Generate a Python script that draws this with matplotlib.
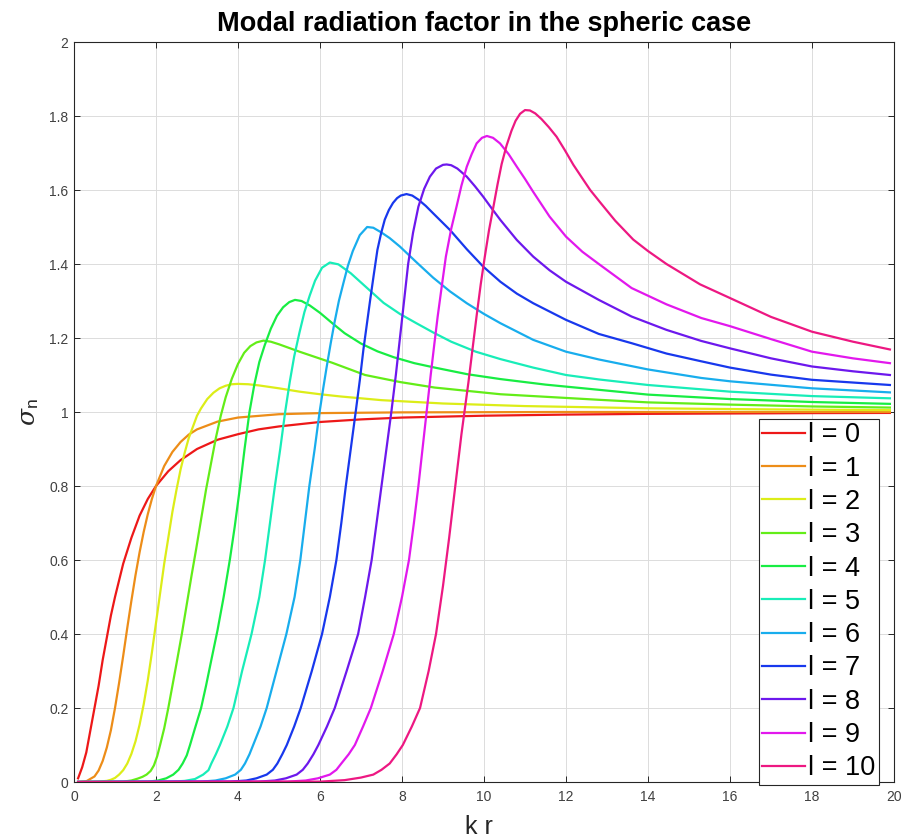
import matplotlib
matplotlib.use("Agg")
import matplotlib.pyplot as plt
from matplotlib.ticker import FuncFormatter

plt.rcParams['font.family'] = ['Liberation Sans', 'DejaVu Sans']
plt.rcParams['mathtext.fontset'] = 'custom'
plt.rcParams['mathtext.rm'] = 'Liberation Sans'
plt.rcParams['mathtext.it'] = 'DejaVu Serif:italic'

# values (kr, sigma_n) for each mode l
kr_l0 = [0.1, 0.2, 0.3, 0.4, 0.5, 0.6, 0.7, 0.8, 0.9, 1.0, 1.2, 1.4, 1.6, 1.8, 2.0, 2.3, 2.6, 3.0, 3.5, 4.0, 4.5, 5.0, 6.0, 7.0, 8.0, 10.0, 12.0, 14.0, 16.0, 18.0, 19.9]
sig_l0 = [0.01, 0.04, 0.08, 0.14, 0.2, 0.26, 0.33, 0.39, 0.45, 0.5, 0.59, 0.66, 0.72, 0.765, 0.8, 0.84, 0.87, 0.9, 0.925, 0.94, 0.953, 0.961, 0.973, 0.98, 0.985, 0.99, 0.993, 0.995, 0.996, 0.997, 0.9975]

kr_l1 = [0.1, 0.3, 0.5, 0.6, 0.7, 0.8, 0.9, 1.0, 1.1, 1.2, 1.3, 1.4, 1.5, 1.6, 1.7, 1.8, 1.9, 2.0, 2.2, 2.4, 2.6, 2.8, 3.0, 3.5, 4.0, 5.0, 6.0, 8.0, 12.0, 19.9]
sig_l1 = [0.0, 0.002, 0.015, 0.031, 0.057, 0.093, 0.14, 0.2, 0.268, 0.341, 0.417, 0.49, 0.559, 0.621, 0.676, 0.724, 0.765, 0.80, 0.854, 0.892, 0.919, 0.939, 0.953, 0.974, 0.985, 0.994, 0.997, 0.999, 1.0, 1.0]

kr_l2 = [0.1, 0.6, 0.8, 0.9, 1.0, 1.1, 1.2, 1.3, 1.4, 1.5, 1.6, 1.7, 1.8, 1.9, 2.0, 2.1, 2.2, 2.3, 2.4, 2.5, 2.6, 2.7, 2.8, 2.9, 3.0, 3.1, 3.25, 3.4, 3.55, 3.7, 3.85, 4.0, 4.25, 4.5, 5.0, 5.5, 6.0, 6.5, 7.5, 9.0, 11.0, 14.0, 17.0, 19.9]
sig_l2 = [0.0, 0.001, 0.003, 0.006, 0.011, 0.02, 0.032, 0.05, 0.076, 0.11, 0.155, 0.21, 0.275, 0.35, 0.43, 0.51, 0.59, 0.66, 0.73, 0.79, 0.845, 0.89, 0.93, 0.96, 0.99, 1.01, 1.035, 1.052, 1.064, 1.071, 1.075, 1.076, 1.075, 1.072, 1.064, 1.055, 1.048, 1.042, 1.032, 1.023, 1.016, 1.010, 1.007, 1.005]

kr_l3 = [0.1, 1.2, 1.4, 1.55, 1.67, 1.77, 1.87, 1.95, 2.03, 2.1, 2.2, 2.3, 2.4, 2.5, 2.63, 2.75, 2.87, 2.98, 3.1, 3.22, 3.34, 3.46, 3.58, 3.7, 3.85, 4.0, 4.15, 4.3, 4.45, 4.62, 4.8, 5.0, 5.5, 6.3, 7.1, 7.95, 8.8, 10.4, 12.8, 14.0, 16.0, 18.0, 19.9]
sig_l3 = [0.0, 0.001, 0.004, 0.009, 0.014, 0.02, 0.03, 0.045, 0.07, 0.1, 0.145, 0.2, 0.26, 0.32, 0.4, 0.48, 0.56, 0.63, 0.71, 0.79, 0.86, 0.93, 0.99, 1.04, 1.09, 1.13, 1.16, 1.178, 1.188, 1.193, 1.19, 1.183, 1.163, 1.133, 1.10, 1.081, 1.066, 1.048, 1.033, 1.026, 1.02, 1.015, 1.012]

kr_l4 = [0.1, 1.8, 2.05, 2.25, 2.42, 2.55, 2.65, 2.75, 2.83, 2.95, 3.1, 3.22, 3.35, 3.5, 3.65, 3.8, 3.92, 4.04, 4.16, 4.28, 4.4, 4.52, 4.65, 4.8, 4.95, 5.1, 5.25, 5.39, 5.55, 5.75, 6.0, 6.3, 6.6, 7.0, 7.4, 7.8, 8.3, 8.8, 9.6, 10.4, 11.5, 12.8, 14.0, 16.0, 18.0, 19.9]
sig_l4 = [0.0, 0.001, 0.004, 0.01, 0.02, 0.033, 0.05, 0.072, 0.1, 0.145, 0.2, 0.26, 0.33, 0.41, 0.5, 0.6, 0.69, 0.79, 0.9, 1.0, 1.075, 1.135, 1.18, 1.225, 1.26, 1.283, 1.297, 1.303, 1.3, 1.288, 1.268, 1.24, 1.213, 1.185, 1.164, 1.148, 1.132, 1.12, 1.102, 1.089, 1.074, 1.06, 1.047, 1.035, 1.027, 1.022]

kr_l5 = [0.1, 2.4, 2.7, 2.95, 3.15, 3.28, 3.35, 3.46, 3.56, 3.74, 3.89, 4.1, 4.33, 4.52, 4.66, 4.78, 4.9, 5.03, 5.15, 5.26, 5.37, 5.5, 5.62, 5.75, 5.88, 6.05, 6.24, 6.45, 6.75, 7.15, 7.55, 7.95, 8.35, 8.76, 9.2, 9.8, 10.4, 11.2, 12.0, 12.8, 14.0, 16.0, 18.0, 19.9]
sig_l5 = [0.0, 0.001, 0.003, 0.008, 0.02, 0.032, 0.05, 0.075, 0.1, 0.15, 0.2, 0.3, 0.4, 0.5, 0.6, 0.7, 0.8, 0.9, 1.0, 1.08, 1.15, 1.215, 1.27, 1.315, 1.355, 1.39, 1.404, 1.399, 1.375, 1.335, 1.295, 1.265, 1.24, 1.215, 1.19, 1.163, 1.143, 1.12, 1.10, 1.088, 1.073, 1.055, 1.043, 1.037]

kr_l6 = [0.1, 3.1, 3.45, 3.7, 3.93, 4.07, 4.17, 4.28, 4.37, 4.55, 4.7, 4.94, 5.18, 5.38, 5.52, 5.63, 5.74, 5.87, 5.99, 6.08, 6.16, 6.26, 6.35, 6.46, 6.57, 6.68, 6.8, 6.97, 7.15, 7.3, 7.5, 7.7, 7.95, 8.35, 8.76, 9.17, 9.58, 10.0, 10.4, 11.2, 12.0, 12.8, 14.0, 15.3, 16.0, 18.0, 19.9]
sig_l6 = [0.0, 0.001, 0.004, 0.01, 0.02, 0.033, 0.05, 0.075, 0.1, 0.15, 0.2, 0.3, 0.4, 0.5, 0.6, 0.7, 0.8, 0.9, 1.0, 1.065, 1.12, 1.185, 1.24, 1.3, 1.348, 1.395, 1.435, 1.478, 1.50, 1.498, 1.485, 1.47, 1.447, 1.405, 1.363, 1.326, 1.294, 1.265, 1.24, 1.195, 1.163, 1.142, 1.115, 1.092, 1.083, 1.064, 1.053]

kr_l7 = [0.1, 3.8, 4.2, 4.45, 4.7, 4.85, 4.96, 5.08, 5.19, 5.37, 5.53, 5.8, 6.05, 6.24, 6.4, 6.52, 6.63, 6.75, 6.87, 6.97, 7.06, 7.14, 7.22, 7.31, 7.4, 7.49, 7.58, 7.68, 7.78, 7.88, 7.97, 8.11, 8.25, 8.4, 8.58, 8.76, 9.17, 9.58, 9.98, 10.4, 10.8, 11.2, 12.0, 12.8, 13.6, 14.45, 15.3, 16.0, 17.0, 18.0, 19.9]
sig_l7 = [0.0, 0.001, 0.004, 0.01, 0.02, 0.033, 0.05, 0.075, 0.1, 0.15, 0.2, 0.3, 0.4, 0.5, 0.6, 0.7, 0.8, 0.9, 1.0, 1.085, 1.17, 1.235, 1.3, 1.37, 1.438, 1.483, 1.52, 1.546, 1.565, 1.578, 1.585, 1.589, 1.585, 1.574, 1.557, 1.537, 1.492, 1.44, 1.393, 1.352, 1.32, 1.294, 1.249, 1.211, 1.186, 1.158, 1.137, 1.12, 1.101, 1.087, 1.073]

kr_l8 = [0.1, 4.5, 4.9, 5.17, 5.43, 5.58, 5.7, 5.84, 5.96, 6.17, 6.36, 6.65, 6.93, 7.1, 7.26, 7.38, 7.5, 7.62, 7.74, 7.85, 7.95, 8.05, 8.15, 8.27, 8.4, 8.54, 8.68, 8.83, 9.0, 9.09, 9.2, 9.35, 9.58, 9.78, 9.98, 10.19, 10.4, 10.8, 11.2, 11.6, 12.0, 12.8, 13.6, 14.45, 15.3, 16.0, 17.0, 18.0, 19.0, 19.9]
sig_l8 = [0.0, 0.001, 0.004, 0.01, 0.02, 0.033, 0.05, 0.075, 0.1, 0.15, 0.2, 0.3, 0.4, 0.5, 0.6, 0.7, 0.8, 0.9, 1.0, 1.1, 1.2, 1.3, 1.40, 1.485, 1.555, 1.603, 1.636, 1.658, 1.668, 1.669, 1.667, 1.658, 1.636, 1.61, 1.582, 1.55, 1.519, 1.465, 1.42, 1.383, 1.352, 1.303, 1.258, 1.222, 1.192, 1.172, 1.145, 1.123, 1.11, 1.10]

kr_l9 = [0.1, 5.2, 5.65, 5.95, 6.24, 6.4, 6.52, 6.7, 6.85, 7.05, 7.24, 7.53, 7.8, 8.0, 8.17, 8.29, 8.4, 8.5, 8.6, 8.7, 8.79, 8.87, 8.97, 9.07, 9.2, 9.33, 9.45, 9.58, 9.7, 9.82, 9.95, 10.07, 10.22, 10.39, 10.6, 10.8, 11.0, 11.2, 11.6, 12.0, 12.4, 12.8, 13.6, 14.45, 15.3, 16.0, 17.0, 18.0, 19.0, 19.9]
sig_l9 = [0.0, 0.001, 0.004, 0.01, 0.02, 0.033, 0.05, 0.075, 0.1, 0.15, 0.2, 0.3, 0.4, 0.5, 0.6, 0.7, 0.8, 0.9, 1.0, 1.1, 1.185, 1.258, 1.34, 1.42, 1.495, 1.555, 1.612, 1.663, 1.697, 1.726, 1.741, 1.746, 1.741, 1.726, 1.697, 1.663, 1.63, 1.595, 1.528, 1.474, 1.433, 1.40, 1.335, 1.291, 1.254, 1.232, 1.197, 1.163, 1.145, 1.132]

kr_l10 = [0.1, 6.0, 6.6, 7.0, 7.3, 7.5, 7.7, 7.87, 8.02, 8.24, 8.44, 8.65, 8.83, 9.0, 9.15, 9.3, 9.45, 9.62, 9.72, 9.82, 9.92, 10.02, 10.12, 10.23, 10.33, 10.43, 10.55, 10.67, 10.77, 10.88, 11.0, 11.12, 11.25, 11.4, 11.58, 11.77, 11.97, 12.18, 12.39, 12.59, 12.83, 13.2, 13.64, 14.0, 14.45, 15.27, 16.0, 17.0, 18.0, 19.0, 19.9]
sig_l10 = [0.0, 0.001, 0.005, 0.012, 0.02, 0.033, 0.05, 0.075, 0.1, 0.15, 0.2, 0.3, 0.4, 0.53, 0.66, 0.8, 0.94, 1.08, 1.17, 1.26, 1.345, 1.42, 1.49, 1.555, 1.615, 1.67, 1.72, 1.76, 1.787, 1.806, 1.816, 1.815, 1.807, 1.792, 1.77, 1.744, 1.708, 1.668, 1.633, 1.60, 1.567, 1.517, 1.466, 1.435, 1.40, 1.345, 1.308, 1.257, 1.217, 1.19, 1.169]

labels = ["l = %d" % l for l in range(11)]
colors = ["#ed1818", "#ed8d18", "#dced18", "#63ed18", "#18ed43", "#18edb8",
          "#18aded", "#1838ed", "#6d18ed", "#e218ed", "#ed1882"]

series = [(kr_l0, sig_l0), (kr_l1, sig_l1), (kr_l2, sig_l2), (kr_l3, sig_l3),
          (kr_l4, sig_l4), (kr_l5, sig_l5), (kr_l6, sig_l6), (kr_l7, sig_l7),
          (kr_l8, sig_l8), (kr_l9, sig_l9), (kr_l10, sig_l10)]

fig = plt.figure(figsize=(9.01, 8.38), dpi=100)
ax = fig.add_axes([74 / 901, 1 - 782 / 838, 820 / 901, 740 / 838])

for (x, y), lab, c in zip(series, labels, colors):
    ax.plot(x, y, color=c, lw=1.6, label=lab, solid_joinstyle='round')

ax.set_xlim(0, 20)
ax.set_ylim(0, 2)
ax.set_xticks(range(0, 21, 2))
ax.set_yticks([i * 0.2 for i in range(11)])
ax.yaxis.set_major_formatter(FuncFormatter(lambda v, p: "%g" % round(v, 1)))

ax.grid(True, color="#dcdcdc", lw=0.7)
ax.set_axisbelow(True)
for sp in ax.spines.values():
    sp.set_color("#262626")
    sp.set_linewidth(0.8)
ax.tick_params(direction='in', length=4, width=0.7, color="#262626",
               top=True, right=True, labelsize=10, labelcolor="#404040")
ax.tick_params(axis='x', pad=6)
ax.tick_params(axis='y', pad=4)

ax.set_title("Modal radiation factor in the spheric case", fontsize=19.5,
             fontweight='bold', pad=8)
ax.set_xlabel("k r", fontsize=18, color="#262626", labelpad=8)
ax.xaxis.label.set_x(0.494)
ax.set_ylabel(r"$\sigma_\mathrm{n}$", fontsize=18, color="#262626", labelpad=6)

leg = ax.legend(loc='upper right', bbox_to_anchor=(0.9817, 0.4905),
                borderaxespad=0, fontsize=19.5, handlelength=1.6,
                handletextpad=0.12, labelspacing=0.27, borderpad=0.12,
                fancybox=False, framealpha=1, edgecolor="#262626")
leg.get_frame().set_linewidth(0.8)

fig.savefig("out.png", dpi=100)
